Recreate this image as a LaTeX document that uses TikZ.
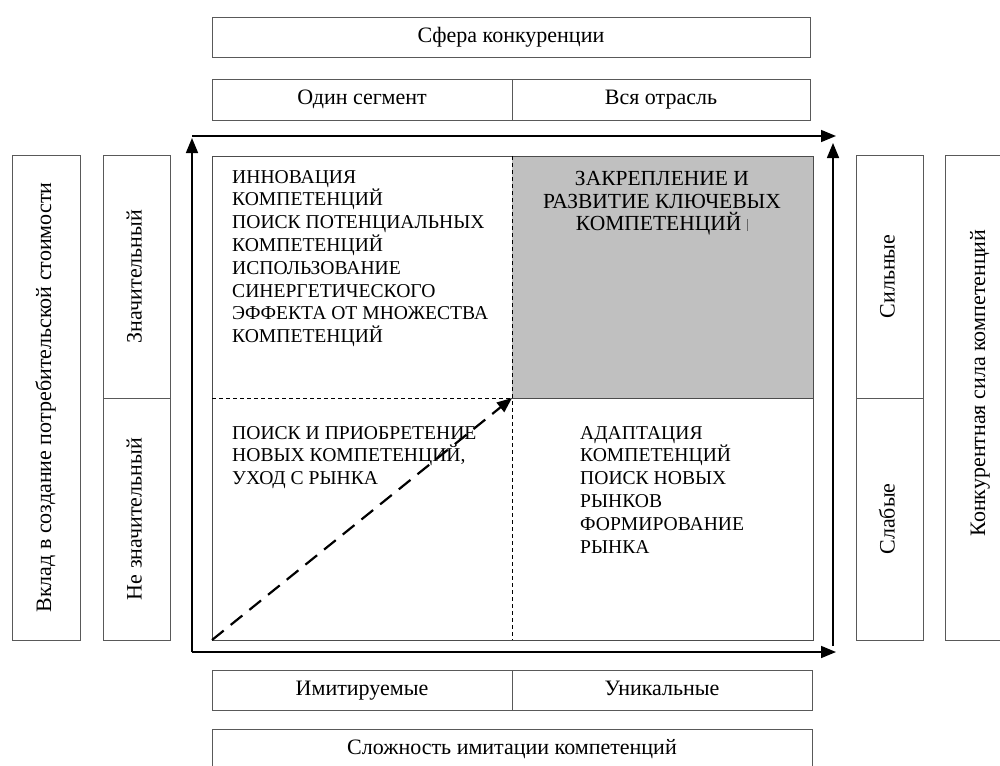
\documentclass[tikz,border=0pt]{standalone}
\usepackage{fontspec}
\setmainfont{Liberation Serif}
\usetikzlibrary{arrows.meta}
\definecolor{qgray}{RGB}{192,192,192}
\begin{document}
\begin{tikzpicture}[x=1pt,y=-1pt,
  lbl/.style={draw=black!65, line width=1pt, inner sep=0pt, text height=14.5pt, text depth=4.5pt, font=\fontsize{22}{26}\selectfont},
  qtext/.style={inner sep=0pt, align=left, font=\fontsize{19.6}{22.8}\selectfont, anchor=north west},
  axisarrow/.style={line width=1.6pt, -{Triangle[length=15pt,width=12pt]}},
  quadline/.style={draw=black!70, line width=1pt},
  thindash/.style={line width=1pt, dash pattern=on 4pt off 3pt},
  diagarrow/.style={line width=2.2pt, dash pattern=on 15pt off 9pt, -{Triangle[length=15pt,width=12pt]}}
]
\clip (0,0) rectangle (1000,765);
\fill[white] (0,0) rectangle (1000,765);

% top labels
\node[lbl, minimum width=598pt, minimum height=40pt] (sfera) at (511,38) {Сфера конкуренции};
\node[lbl, minimum width=300pt, minimum height=40pt] (seg) at (362,100) {Один сегмент};
\node[lbl, minimum width=298pt, minimum height=40pt] (otr) at (661,100) {Вся отрасль};

% bottom labels
\node[lbl, minimum width=300pt, minimum height=40pt] (imit) at (362,690) {Имитируемые};
\node[lbl, minimum width=300pt, minimum height=40pt] (unik) at (662,690) {Уникальные};
\node[lbl, minimum width=600pt, minimum height=44pt] (slozh) at (512,751) {};
\node[font=\fontsize{22}{26}\selectfont, inner sep=0pt] (slozht) at (512,749) {Сложность имитации компетенций};

% left labels
\node[lbl, rotate=90, minimum width=485pt, minimum height=68pt] (vklad) at (46,397.5) {Вклад в создание потребительской стоимости};
\node[lbl, rotate=90, minimum width=243pt, minimum height=67pt] (znach) at (136.5,276.5) {Значительный};
\node[lbl, rotate=90, minimum width=242pt, minimum height=67pt] (neznach) at (136.5,519) {Не значительный};

% right labels
\node[lbl, rotate=90, minimum width=243pt, minimum height=67pt] (siln) at (889.5,276.5) {Сильные};
\node[lbl, rotate=90, minimum width=242pt, minimum height=67pt] (slab) at (889.5,519) {Слабые};
\node[lbl, rotate=90, minimum width=485pt, minimum height=70pt] (konk) at (980,397.5) {};
\node[font=\fontsize{22}{26}\selectfont, inner sep=0pt, rotate=90] (konkt) at (980,383) {Конкурентная сила компетенций};

% quadrants
\coordinate (O) at (212,640);
\coordinate (C) at (512,398);
\coordinate (Q1) at (212,156);
\coordinate (Q2) at (512,156);
\coordinate (Q3) at (813,156);
\coordinate (Q4) at (813,398);
\coordinate (Q5) at (813,640);
\coordinate (Q6) at (512,640);
\coordinate (Q7) at (212,398);
\fill[qgray] (Q2) rectangle (Q4);
\draw[quadline] (Q2) -- (Q1) -- (O) -- (Q5) -- (Q3) -- (Q2);
\draw[quadline] (C) -- (Q4);
\draw[thindash] (Q2) -- (Q6);
\draw[thindash] (Q7) -- (C);

% frame arrows
\coordinate (FBL) at (192,652);
\coordinate (FTL) at (192,136);
\coordinate (FTLA) at (192,138);
\coordinate (FBR) at (836,652);
\coordinate (FTR) at (836,136);
\coordinate (FRB) at (833,646);
\coordinate (FRT) at (833,143);
\draw[axisarrow] (FBL) -- (FTLA);
\draw[axisarrow] (FTL) -- (FTR);
\draw[axisarrow] (FBL) -- (FBR);
\draw[axisarrow] (FRB) -- (FRT);

% diagonal
\draw[diagarrow] (O) -- (C);

% quadrant texts
\node[qtext] (tl) at (232,170) {ИННОВАЦИЯ\\КОМПЕТЕНЦИЙ\\ПОИСК ПОТЕНЦИАЛЬНЫХ\\КОМПЕТЕНЦИЙ\\ИСПОЛЬЗОВАНИЕ\\СИНЕРГЕТИЧЕСКОГО\\ЭФФЕКТА ОТ МНОЖЕСТВА\\КОМПЕТЕНЦИЙ};
\node[qtext, align=center, anchor=north, font=\fontsize{21.5}{22.6}\selectfont] (tr) at (662,171) {ЗАКРЕПЛЕНИЕ И\\РАЗВИТИЕ КЛЮЧЕВЫХ\\КОМПЕТЕНЦИЙ {\color{black!60}\rule{1.2pt}{12pt}}};
\node[qtext] (bl) at (232,426) {ПОИСК И ПРИОБРЕТЕНИЕ\\НОВЫХ КОМПЕТЕНЦИЙ,\\УХОД С РЫНКА};
\node[qtext] (br) at (580,426) {АДАПТАЦИЯ\\КОМПЕТЕНЦИЙ\\ПОИСК НОВЫХ\\РЫНКОВ\\ФОРМИРОВАНИЕ\\РЫНКА};
\end{tikzpicture}
\end{document}
